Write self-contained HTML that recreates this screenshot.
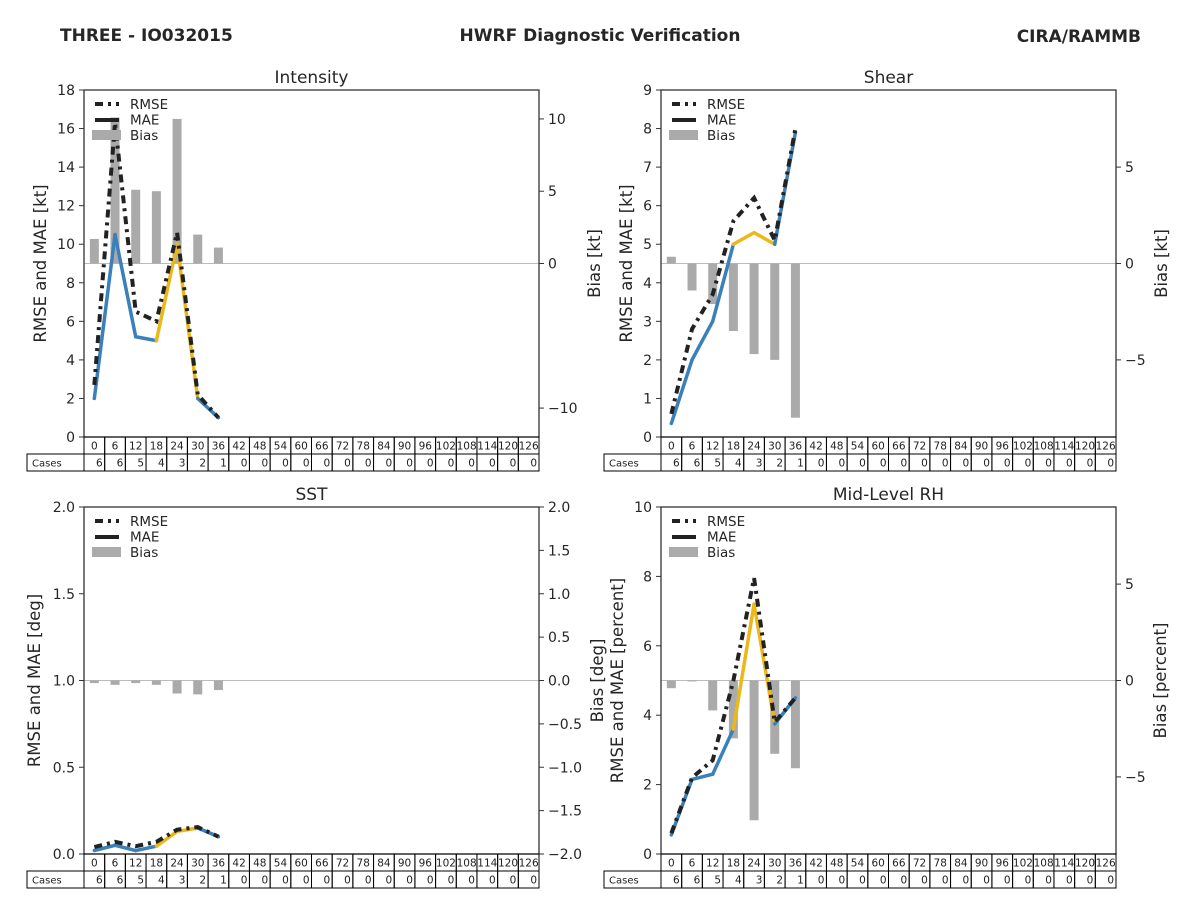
<!DOCTYPE html>
<html><head><meta charset="utf-8"><style>
body{margin:0;background:#fff;}
svg{display:block;font-family:"DejaVu Sans","Liberation Sans",sans-serif;}
</style></head><body>
<svg id="chart" width="1200" height="900" xmlns="http://www.w3.org/2000/svg">
<text x="60" y="41" font-size="17" font-weight="bold" fill="#262626">THREE - IO032015</text>
<text x="600" y="41" font-size="17" font-weight="bold" fill="#262626" text-anchor="middle">HWRF Diagnostic Verification</text>
<text x="1141" y="42" font-size="17" font-weight="bold" fill="#262626" text-anchor="end">CIRA/RAMMB</text>
</svg>
<script>
const hours = [0,6,12,18,24,30,36,42,48,54,60,66,72,78,84,90,96,102,108,114,120,126];
const cases = [6,6,5,4,3,2,1,0,0,0,0,0,0,0,0,0,0,0,0,0,0,0];
const intRmse = [2.7,16.3,6.5,6.0,10.6,2.2,1.0];
const intMae = [2.0,10.5,5.2,5.0,10.0,2.0,1.0];
const intBias = [1.7,10.1,5.1,5.0,10.0,2.0,1.1];
const shrRmse = [0.6,2.8,3.7,5.6,6.2,5.1,8.0];
const shrMae = [0.35,2.0,3.0,5.0,5.3,5.0,7.9];
const shrBias = [0.35,-1.4,-2.1,-3.5,-4.7,-5.0,-8.0];
const sstRmse = [0.04,0.07,0.045,0.07,0.14,0.155,0.1];
const sstMae = [0.02,0.05,0.02,0.045,0.13,0.15,0.1];
const sstBias = [-0.03,-0.05,-0.03,-0.05,-0.15,-0.16,-0.11];
const rhRmse = [0.6,2.2,2.7,5.0,7.95,3.8,4.5];
const rhMae = [0.55,2.15,2.3,3.6,7.2,3.75,4.5];
const rhBias = [-0.4,-0.05,-1.55,-3.0,-7.25,-3.8,-4.55];
const intLeftTicks = ["0","2","4","6","8","10","12","14","16","18"];
const intRightTicks = ["10","5","0","\u221210"];
const shrLeftTicks = ["0","1","2","3","4","5","6","7","8","9"];
const shrRightTicks = ["5","0","\u22125"];
const sstLeftTicks = ["0.0","0.5","1.0","1.5","2.0"];
const sstRightTicks = ["2.0","1.5","1.0","0.5","0.0","\u22120.5","\u22121.0","\u22121.5","\u22122.0"];
const rhLeftTicks = ["0","2","4","6","8","10"];
const rhRightTicks = ["5","0","\u22125"];

const svg = document.getElementById('chart');
const NS = 'http://www.w3.org/2000/svg';
function mk(tag, attrs, parent){const e=document.createElementNS(NS,tag);for(const k in attrs)e.setAttribute(k,attrs[k]);(parent||svg).appendChild(e);return e;}
const BLUE='#3a80ba', YEL='#ebb81a';
const DASH='8,5,3,5';

function panel(o){
  const g = mk('g',{});
  
  
  const L=o.x, R=o.x+455, T=o.y, B=o.y+347, W=455, H=347;
  const cw = W/22;
  const xs = i => L + cw*(i+0.5);
  const yl = v => B - (v - o.lmin)/(o.lmax-o.lmin)*H;
  const yr = v => B - (v + o.rmax)/(2*o.rmax)*H;
  const t = mk('text',{x:L+W/2,y:T-7,'font-size':17,'text-anchor':'middle',fill:'#262626'},g);
  t.textContent=o.title;
  
  
  const z = mk('line',{x1:L,x2:R,y1:yr(0),y2:yr(0),stroke:'#bbb','stroke-width':1},g);
  
  
  o.bias.forEach((v,i)=>{
    const y0=yr(0), y1=yr(v);
    const r = mk('rect',{x:xs(i)-4.5,y:Math.min(y0,y1),width:9,height:Math.max(Math.abs(y1-y0),0.8),fill:'#aaaaaa'},g);
    
    
  });
  for(let i=0;i<o.mae.length-1;i++){
    const col = (i===3||i===4)?YEL:BLUE;
    const s = mk('line',{x1:xs(i),y1:yl(o.mae[i]),x2:xs(i+1),y2:yl(o.mae[i+1]),stroke:col,'stroke-width':3.5,'stroke-linecap':'round'},g);
    
    
  }
  const pts = o.rmse.map((v,i)=>xs(i)+','+yl(v)).join(' ');
  const pl = mk('polyline',{points:pts,fill:'none',stroke:'#222','stroke-width':4,'stroke-dasharray':DASH},g);
  
  
  const f = mk('rect',{x:L,y:T,width:W,height:H,fill:'none',stroke:'#333','stroke-width':1.3},g);
  
  
  o.lt.forEach((lab,i)=>{
    const v = o.lmin + i*(o.lmax-o.lmin)/(o.lt.length-1);
    mk('line',{x1:L-5,x2:L,y1:yl(v),y2:yl(v),stroke:'#333'},g);
    const tx = mk('text',{x:L-9,y:yl(v)+5,'font-size':14,'text-anchor':'end',fill:'#262626'},g);
    tx.textContent=lab;
    
    
  });
  o.rt.forEach((lab,i)=>{
    const v = o.rvals[i];
    mk('line',{x1:R,x2:R+5,y1:yr(v),y2:yr(v),stroke:'#333'},g);
    const tx = mk('text',{x:R+9,y:yr(v)+5,'font-size':14,fill:'#262626'},g);
    tx.textContent=lab;
    
    
  });
  const ll = mk('text',{transform:`translate(${o.llx},${T+H/2}) rotate(-90)`,'font-size':16.5,'text-anchor':'middle',fill:'#262626'},g);
  ll.textContent=o.lLabel;
  
  
  const rl = mk('text',{transform:`translate(${o.rlx},${T+H/2}) rotate(-90)`,'font-size':16.5,'text-anchor':'middle',fill:'#262626'},g);
  rl.textContent=o.rLabel;
  
  
  const lx=L+11, ly=T+14;
  mk('line',{x1:lx,x2:lx+24,y1:ly,y2:ly,stroke:'#222','stroke-width':4,'stroke-dasharray':DASH},g);
  mk('line',{x1:lx,x2:lx+24,y1:ly+16,y2:ly+16,stroke:'#222','stroke-width':4},g);
  mk('rect',{x:lx-3,y:ly+26,width:29,height:10,fill:'#aaa'},g);
  ['RMSE','MAE','Bias'].forEach((s,i)=>{
    const tx=mk('text',{x:lx+35,y:ly+5+i*15.5,'font-size':13.5,fill:'#262626'},g);
    tx.textContent=s;
    
    
  });
  const tb = mk('g',{},g);
  
  
  hours.forEach((h,i)=>{
    const cx=L+cw*i;
    mk('rect',{x:cx,y:B,width:cw,height:17,fill:'none',stroke:'#000','stroke-width':1},tb);
    const ht=mk('text',{x:cx+cw/2,y:B+12.5,'font-size':10.5,'text-anchor':'middle',fill:'#222'},tb);
    ht.textContent=h;
    mk('rect',{x:cx,y:B+17,width:cw,height:17,fill:'none',stroke:'#000','stroke-width':1},tb);
    const ct=mk('text',{x:cx+cw-2,y:B+29.5,'font-size':10.5,'text-anchor':'end',fill:'#222'},tb);
    ct.textContent=cases[i];
  });
  mk('rect',{x:L-57,y:B+17,width:57,height:17,fill:'none',stroke:'#000','stroke-width':1},tb);
  const cl=mk('text',{x:L-52,y:B+29.5,'font-size':10,fill:'#222'},tb);
  cl.textContent='Cases';
}
panel({name:'intensity',title:'Intensity',x:84,y:90,lmin:0,lmax:18,rmax:12,rmse:intRmse,mae:intMae,bias:intBias,lt:intLeftTicks,rt:intRightTicks,rvals:[10,5,0,-10],lLabel:'RMSE and MAE [kt]',rLabel:'Bias [kt]',llx:46,rlx:600});
panel({name:'shear',title:'Shear',x:661,y:90,lmin:0,lmax:9,rmax:9,rmse:shrRmse,mae:shrMae,bias:shrBias,lt:shrLeftTicks,rt:shrRightTicks,rvals:[5,0,-5],lLabel:'RMSE and MAE [kt]',rLabel:'Bias [kt]',llx:632,rlx:1167});
panel({name:'sst',title:'SST',x:84,y:507,lmin:0,lmax:2,rmax:2,rmse:sstRmse,mae:sstMae,bias:sstBias,lt:sstLeftTicks,rt:sstRightTicks,rvals:[2,1.5,1,0.5,0,-0.5,-1,-1.5,-2],lLabel:'RMSE and MAE [deg]',rLabel:'Bias [deg]',llx:40,rlx:603});
panel({name:'rh',title:'Mid-Level RH',x:661,y:507,lmin:0,lmax:10,rmax:9,rmse:rhRmse,mae:rhMae,bias:rhBias,lt:rhLeftTicks,rt:rhRightTicks,rvals:[5,0,-5],lLabel:'RMSE and MAE [percent]',rLabel:'Bias [percent]',llx:623,rlx:1166});
</script>
</body></html>
